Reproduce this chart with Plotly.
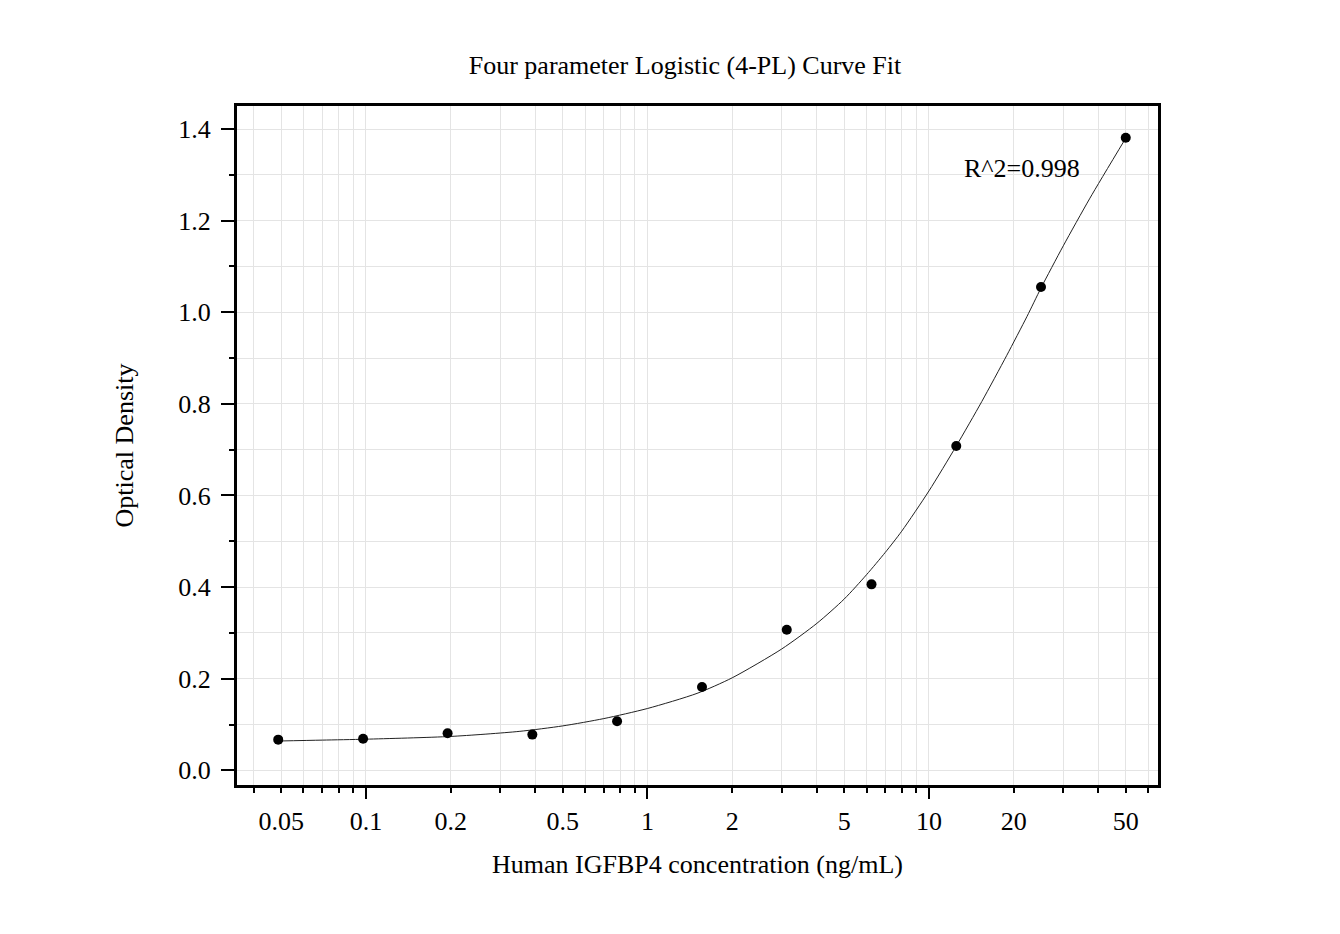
import plotly.graph_objects as go

# Standard concentrations (ng/mL) and measured optical densities
conc = [0.0488, 0.0977, 0.195, 0.39, 0.78, 1.5625, 3.125, 6.25, 12.5, 25, 50]
od = [0.067, 0.069, 0.081, 0.078, 0.107, 0.182, 0.307, 0.406, 0.708, 1.055, 1.381]

# Fitted 4-PL curve
curve_x = [0.0488, 0.07, 0.1, 0.2, 0.35, 0.5, 0.7, 1.0, 1.5, 2.0, 3.0, 4.0, 5.0,
           6.0, 7.0, 8.0, 10.0, 12.5, 15.4, 18.9, 22.3, 25, 30, 37.3, 50]
curve_y = [0.064, 0.066, 0.068, 0.074, 0.085, 0.097, 0.113, 0.135, 0.168, 0.202,
           0.265, 0.321, 0.374, 0.427, 0.476, 0.522, 0.610, 0.708, 0.805, 0.906,
           0.991, 1.053, 1.145, 1.249, 1.380]

# Axis ticks
x_tick_vals = [0.04, 0.05, 0.06, 0.07, 0.08, 0.09,
               0.1, 0.2, 0.3, 0.4, 0.5, 0.6, 0.7, 0.8, 0.9,
               1, 2, 3, 4, 5, 6, 7, 8, 9,
               10, 20, 30, 40, 50, 60]
x_label_map = {0.05: "0.05", 0.1: "0.1", 0.2: "0.2", 0.5: "0.5", 1: "1",
               2: "2", 5: "5", 10: "10", 20: "20", 50: "50"}
x_tick_text = [x_label_map.get(v, "") for v in x_tick_vals]
x_decades = [0.1, 1, 10]

title_text = "Four parameter Logistic (4-PL) Curve Fit"
x_title = "Human IGFBP4 concentration (ng/mL)"
y_title = "Optical Density"
r2_text = "R^2=0.998"

FONT = "Liberation Serif, Times New Roman, serif"
GRID = "#e4e4e4"
FS = 26

W, H = 1332, 926   # page body adds an 8 px offset
L, T = 229, 98
PW, PH = 921, 679

fig = go.Figure()
fig.add_trace(go.Scatter(x=curve_x, y=curve_y, mode="lines",
                         line=dict(color="#222222", width=1, shape="spline", smoothing=0.7),
                         hoverinfo="skip", showlegend=False))
fig.add_trace(go.Scatter(x=conc, y=od, mode="markers",
                         marker=dict(color="black", size=10),
                         showlegend=False))
# helper trace so the overlay axis (long decade ticks) is drawn
fig.add_trace(go.Scatter(x=[], y=[], xaxis="x2", showlegend=False))

xrange = [-1.458, 1.8135]
fig.update_layout(
    width=W, height=H,
    paper_bgcolor="white", plot_bgcolor="white",
    margin=dict(l=L, r=W - L - PW, t=T, b=H - T - PH, pad=0),
    font=dict(family=FONT, size=FS, color="black"),
    title=dict(text=title_text, x=(685 - 237) / PW, xref="paper", xanchor="center",
               y=1 - (65 - 8) / H, yanchor="middle", font=dict(size=FS)),
    xaxis=dict(type="log", range=xrange,
               tickmode="array", tickvals=x_tick_vals, ticktext=x_tick_text,
               ticks="outside", ticklen=5, tickwidth=2, tickcolor="black",
               ticklabelstandoff=6,
               tickfont=dict(size=FS),
               showgrid=True, gridcolor=GRID, gridwidth=1,
               showline=True, linecolor="black", linewidth=3, mirror=True,
               zeroline=False,
               title=dict(text=x_title, standoff=20, font=dict(size=FS))),
    xaxis2=dict(type="log", range=xrange, overlaying="x", anchor="y", side="bottom",
                tickmode="array", tickvals=x_decades, showticklabels=False,
                ticks="outside", ticklen=13, tickwidth=2, tickcolor="black",
                showgrid=False, showline=False, zeroline=False),
    yaxis=dict(range=[-0.032, 1.4502], tickmode="linear", tick0=0, dtick=0.2,
               tickformat=".1f",
               ticks="outside", ticklen=13, tickwidth=2, tickcolor="black",
               ticklabelstandoff=5,
               tickfont=dict(size=FS),
               showgrid=True, gridcolor=GRID, gridwidth=1,
               minor=dict(dtick=0.1, tick0=0, ticks="outside", ticklen=5, tickwidth=2,
                          tickcolor="black", showgrid=True, gridcolor=GRID, gridwidth=1),
               showline=True, linecolor="black", linewidth=3, mirror=True,
               zeroline=False,
               title=dict(text=y_title, standoff=38, font=dict(size=FS))),
    annotations=[dict(text=r2_text, xref="paper", yref="paper",
                      x=(962 - 237) / PW, y=(785 - 168) / PH,
                      xanchor="left", yanchor="middle", showarrow=False,
                      font=dict(size=FS, family=FONT))],
)

fig.write_html("out.html")
